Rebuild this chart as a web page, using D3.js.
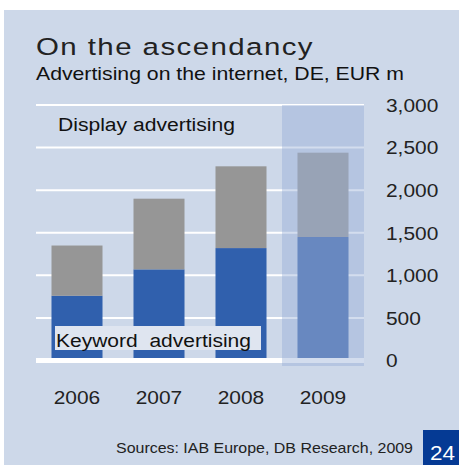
<!DOCTYPE html>
<html>
<head>
<meta charset="utf-8">
<script src="https://cdn.jsdelivr.net/npm/d3@7/dist/d3.min.js"></script>
<style>
  html, body { margin: 0; padding: 0; background: #ffffff; }
  svg { display: block; font-family: "Liberation Sans", Arial, sans-serif; }
</style>
</head>
<body>
<svg id="chart" width="459" height="465"></svg>
<script>
// Internet advertising in Germany, EUR m (2009 = estimate)
const years = ["2006", "2007", "2008", "2009"];
const keyword = [760, 1070, 1320, 1450];
const display = [590, 830, 960, 990];
const yTicks = [0, 500, 1000, 1500, 2000, 2500, 3000];
const highlightYear = "2009";

const svg = d3.select("#chart");

// widen a text (glyphs and gaps) to a set width
function stretchTo(sel, width) {
  return sel.attr("textLength", width).attr("lengthAdjust", "spacingAndGlyphs");
}
// widen each text by a common factor
function stretchBy(sel, factor) {
  sel.each(function () {
    const w = this.getComputedTextLength();
    this.setAttribute("textLength", w * factor);
    this.setAttribute("lengthAdjust", "spacingAndGlyphs");
  });
  return sel;
}

// panel background
svg.append("rect").attr("x", 4).attr("y", 10).attr("width", 455).attr("height", 455)
  .attr("fill", "#cdd8e9");

// titles
stretchTo(svg.append("text").attr("x", 36).attr("y", 55)
  .attr("font-size", 24.5).attr("letter-spacing", 1.2).attr("fill", "#222")
  .text("On the ascendancy"), 278);
stretchTo(svg.append("text").attr("x", 36).attr("y", 80)
  .attr("font-size", 18.5).attr("fill", "#111")
  .text("Advertising on the internet, DE, EUR m"), 368);

const x = d3.scaleBand().domain(years).range([36, 364])
  .paddingInner(0.378).paddingOuter(0.189);
const y = d3.scaleLinear().domain([0, 3000]).range([360.5, 105]);
const gap = x.step() - x.bandwidth();

// gridlines
svg.append("g").selectAll("line").data(yTicks).join("line")
  .attr("x1", 36).attr("x2", 364)
  .attr("y1", d => y(d)).attr("y2", d => y(d))
  .attr("stroke", "#ffffff")
  .attr("stroke-width", d => d === 0 ? 5 : 2);

// y tick labels on the right
stretchBy(svg.append("g").selectAll("text").data(yTicks).join("text")
  .attr("x", 386).attr("y", d => y(d))
  .attr("dy", "0.36em")
  .attr("font-size", 19).attr("fill", "#222")
  .text(d => d3.format(",")(d)), 1.1);

// stacked series
const rows = years.map((yr, i) => ({ year: yr, keyword: keyword[i], display: display[i] }));
const stack = d3.stack().keys(["keyword", "display"])(rows);
const colors = { keyword: "#3060ad", display: "#969696" };
const colorsEst = { keyword: "#6888c0", display: "#98a3b6" };

function drawBars(g, filterFn, palette) {
  g.selectAll("g").data(stack).join("g")
    .attr("fill", s => palette[s.key])
    .selectAll("rect").data(s => s.filter(d => filterFn(d.data.year))).join("rect")
    .attr("x", d => x(d.data.year))
    .attr("width", x.bandwidth())
    .attr("y", d => y(d[1]))
    .attr("height", d => (d[0] === 0 ? y(d[0]) - 2.5 : y(d[0])) - y(d[1]));
}

drawBars(svg.append("g"), yr => yr !== highlightYear, colors);

// shaded estimate column
svg.append("rect")
  .attr("x", x(highlightYear) - gap / 2)
  .attr("width", x.step())
  .attr("y", y(3000))
  .attr("height", y(0) - y(3000) + 5.5)
  .attr("fill", "rgb(145,170,213)").attr("fill-opacity", 0.4);

drawBars(svg.append("g"), yr => yr === highlightYear, colorsEst);

// series labels
stretchTo(svg.append("text").attr("x", 58).attr("y", 131)
  .attr("font-size", 18).attr("fill", "#111")
  .text("Display advertising"), 177);

svg.append("rect").attr("x", 55).attr("y", 326).attr("width", 206).attr("height", 24)
  .attr("fill", "#dfe5f0");
stretchTo(svg.append("text").attr("x", 56).attr("y", 346.5)
  .attr("font-size", 18).attr("fill", "#111")
  .style("white-space", "pre")
  .text("Keyword  advertising"), 195);

// x axis labels
stretchBy(svg.append("g").selectAll("text").data(years).join("text")
  .attr("x", d => x(d) + x.bandwidth() / 2).attr("y", 404)
  .attr("text-anchor", "middle")
  .attr("font-size", 19).attr("fill", "#222")
  .text(d => d), 1.1);

// source note and page number
stretchTo(svg.append("text").attr("x", 413).attr("y", 453)
  .attr("text-anchor", "end")
  .attr("font-size", 14.5).attr("fill", "#222")
  .text("Sources: IAB Europe, DB Research, 2009"), 297);
svg.append("rect").attr("x", 423).attr("y", 430).attr("width", 36).attr("height", 35)
  .attr("fill", "#053a94");
stretchTo(svg.append("text").attr("x", 430).attr("y", 459.5)
  .attr("font-size", 21).attr("fill", "#ffffff")
  .text("24"), 25);
</script>
</body>
</html>
